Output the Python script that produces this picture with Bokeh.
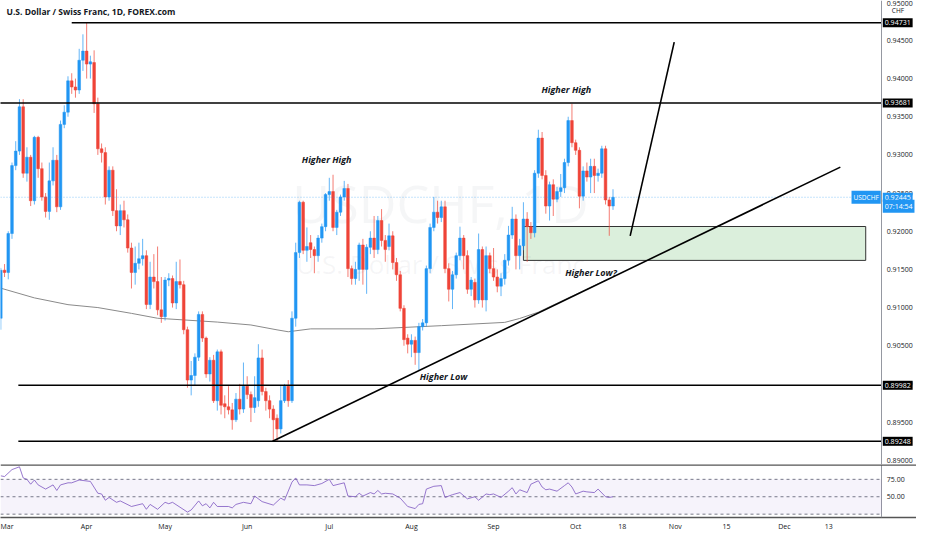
import numpy as np
import pandas as pd
from bokeh.plotting import figure
from bokeh.models import (ColumnDataSource, Range1d, FixedTicker, NumeralTickFormatter,
                          Span, BoxAnnotation, Label)
from bokeh.layouts import column
from bokeh.embed import file_html
from bokeh.resources import INLINE
from bokeh.core.properties import value

# ---------------- data ----------------
title_text = "U.S. Dollar / Swiss Franc, 1D, FOREX.com"

opens = [.9086,.9149,.9146,.9197,.9286,.9305,.9363,.9276,.9297,.9240,
         .9323,.9282,.9245,.9226,.9266,.9293,.9232,.9340,.9356,.9397,
         .9389,.9385,.9424,.9436,.9419,.9421,.9367,.9308,.9303,.9245,
         .9280,.9227,.9207,.9227,.9215,.9178,.9146,.9158,.9164,.9168,
         .9104,.9140,.9134,.9097,.9088,.9136,.9138,.9106,.9134,.9130,
         .9071,.9005,.9011,.9035,.9091,.9060,.9013,.9031,.8978,.9042,
         .8974,.8970,.8966,.8953,.8980,.8967,.8997,.8986,.8969,.8978,
         .9034,.8990,.8978,.8967,.8955,.8941,.8978,.8997,.8978,.9086,
         .9172,.9238,.9175,.9185,.9176,.9168,.9191,.9206,.9248,.9252,
         .9205,.9225,.9245,.9256,.9151,.9138,.9150,.9182,.9150,.9179,
         .9191,.9176,.9214,.9188,.9180,.9194,.9159,.9143,.9099,.9060,
         .9052,.9057,.9041,.9075,.9080,.9151,.9205,.9225,.9218,.9232,
         .9151,.9124,.9143,.9168,.9191,.9168,.9124,.9133,.9110,.9176,
         .9110,.9168,.9151,.9140,.9128,.9138,.9162,.9195,.9216,.9168,
         .9181,.9216,.9206,.9198,.9276,.9322,.9273,.9233,.9261,.9242,
         .9252,.9257,.9290,.9345,.9316,.9306,.9246,.9279,.9271,.9285,
         .9273,.9276,.9308,.9241,.9233]
highs = [.9152,.9157,.9200,.9290,.9318,.9373,.9373,.9310,.9300,.9325,
         .9325,.9290,.9250,.9290,.9310,.9300,.9345,.9365,.9403,.9407,
         .9400,.9439,.9458,.9473,.9430,.9437,.9375,.9315,.9310,.9285,
         .9285,.9255,.9235,.9240,.9222,.9185,.9180,.9185,.9190,.9175,
         .9160,.9170,.9180,.9140,.9140,.9145,.9142,.9160,.9163,.9135,
         .9075,.9030,.9040,.9095,.9095,.9062,.9035,.9038,.9045,.9045,
         .8985,.8997,.8975,.8988,.9000,.9028,.9010,.8990,.9010,.9052,
         .9045,.8995,.8985,.8972,.8960,.8998,.9000,.9005,.9095,.9185,
         .9240,.9240,.9205,.9195,.9180,.9195,.9210,.9250,.9270,.9274,
         .9228,.9248,.9266,.9262,.9155,.9160,.9185,.9190,.9183,.9200,
         .9220,.9220,.9229,.9195,.9210,.9200,.9165,.9148,.9103,.9065,
         .9065,.9062,.9080,.9085,.9155,.9210,.9245,.9240,.9240,.9240,
         .9158,.9148,.9172,.9206,.9195,.9175,.9140,.9138,.9197,.9180,
         .9180,.9172,.9178,.9150,.9145,.9170,.9207,.9232,.9222,.9190,
         .9238,.9225,.9212,.9280,.9333,.9330,.9280,.9265,.9268,.9258,
         .9275,.9295,.9350,.9367,.9320,.9310,.9285,.9290,.9295,.9295,
         .9282,.9312,.9312,.9245,.9255]
lows = [.9071,.9140,.9137,.9190,.9280,.9300,.9270,.9265,.9233,.9235,
        .9270,.9240,.9218,.9215,.9260,.9225,.9228,.9335,.9350,.9380,
        .9375,.9380,.9410,.9400,.9400,.9355,.9300,.9290,.9235,.9240,
        .9220,.9200,.9195,.9205,.9172,.9125,.9130,.9150,.9155,.9098,
        .9098,.9125,.9090,.9080,.9083,.9128,.9100,.9098,.9125,.9065,
        .8995,.8985,.8998,.9030,.9055,.9008,.9003,.8975,.8965,.8960,
        .8955,.8960,.8940,.8950,.8960,.8962,.8980,.8950,.8962,.8970,
        .8985,.8965,.8955,.8925,.8925,.8935,.8975,.8970,.8975,.9075,
        .9165,.9170,.9160,.9165,.9145,.9160,.9185,.9200,.9240,.9200,
        .9195,.9220,.9240,.9140,.9130,.9130,.9135,.9130,.9118,.9170,
        .9165,.9170,.9180,.9160,.9175,.9150,.9135,.9095,.9050,.9040,
        .9035,.9025,.9018,.9070,.9075,.9145,.9200,.9210,.9212,.9145,
        .9108,.9098,.9138,.9162,.9150,.9118,.9115,.9100,.9105,.9100,
        .9095,.9145,.9135,.9120,.9115,.9130,.9155,.9190,.9150,.9150,
        .9175,.9160,.9190,.9192,.9270,.9268,.9223,.9214,.9220,.9238,
        .9245,.9250,.9285,.9310,.9300,.9230,.9240,.9265,.9250,.9250,
        .9265,.9270,.9235,.9194,.9228]
closes = [.9149,.9146,.9197,.9286,.9305,.9363,.9276,.9297,.9240,.9323,
          .9282,.9245,.9226,.9266,.9293,.9232,.9340,.9356,.9397,.9389,
          .9385,.9424,.9436,.9419,.9422,.9367,.9308,.9303,.9245,.9280,
          .9227,.9207,.9227,.9215,.9178,.9146,.9158,.9164,.9168,.9104,
          .9140,.9134,.9097,.9088,.9136,.9138,.9106,.9134,.9130,.9071,
          .9005,.9011,.9035,.9091,.9060,.9013,.9031,.8978,.9042,.8972,
          .8970,.8966,.8953,.8980,.8967,.8997,.8986,.8969,.8982,.9034,
          .8990,.8978,.8967,.8953,.8941,.8978,.8997,.8978,.9086,.9172,
          .9238,.9175,.9180,.9176,.9168,.9191,.9206,.9248,.9252,.9205,
          .9225,.9245,.9256,.9151,.9138,.9150,.9182,.9150,.9179,.9191,
          .9176,.9214,.9188,.9176,.9194,.9159,.9143,.9099,.9058,.9052,
          .9057,.9041,.9075,.9080,.9151,.9205,.9225,.9218,.9232,.9151,
          .9124,.9143,.9168,.9191,.9168,.9124,.9136,.9110,.9176,.9110,
          .9168,.9151,.9140,.9128,.9138,.9162,.9195,.9216,.9168,.9181,
          .9216,.9206,.9198,.9276,.9322,.9273,.9233,.9261,.9242,.9252,
          .9257,.9290,.9345,.9316,.9306,.9246,.9279,.9271,.9285,.9273,
          .9276,.9308,.9241,.9233,.92445]

ma_idx = [0, 9, 18, 26, 35, 42, 58, 67, 74, 77, 83, 100, 118, 135, 139, 144, 146, 163]
ma_val = [.91254, .91127, .91038, .91000, .90924, .90860, .90810, .90772, .90708,
          .90683, .90721, .90721, .90763, .90806, .90857, .90940, .90987, .91381]

rsi_idx = [0, 1, 3, 5, 6, 7, 8, 9, 10, 12, 14, 15, 16, 18, 19, 21, 24, 26, 27, 28,
           29, 31, 32, 35, 38, 39, 40, 42, 44, 45, 46, 48, 50, 51, 53, 54, 55, 56, 57, 58,
           61, 62, 63, 65, 67, 68, 70, 73, 75, 76, 78, 79, 80, 82, 84, 86, 88, 89, 92, 93,
           95, 96, 97, 99, 100, 101, 102, 103, 105, 107, 109, 111, 112, 113, 114, 116, 118, 119, 121, 123,
           125, 127, 128, 130, 131, 132, 134, 136, 137, 138, 139, 141, 142, 144, 145, 146, 147, 149, 151, 152,
           153, 154, 156, 157, 159, 160, 162, 163, 164]
rsi_val = [80, 79, 89, 93, 77, 75, 68, 74, 67, 61, 67, 59, 67, 70, 70, 74, 72, 55, 54, 45,
           49, 42, 44, 36, 40, 32, 39, 32, 42, 40, 42, 35, 28, 31, 44, 37, 40, 34, 42, 36,
           36, 34, 39, 42, 40, 51, 43, 38, 48, 45, 71, 77, 67, 67, 66, 69, 75, 66, 70, 51,
           50, 55, 51, 56, 54, 59, 54, 55, 54, 48, 36, 33, 39, 40, 61, 65, 66, 49, 53, 56,
           47, 50, 45, 54, 53, 54, 49, 58, 63, 54, 60, 56, 68, 73, 64, 60, 61, 58, 66, 70,
           64, 54, 58, 57, 56, 61, 50, 49, 50]

levels = [0.94731, 0.93681, 0.89982, 0.89248]
last_price = 0.92445
symbol = "USDCHF"
currency = "CHF"
countdown = "07:14:54"
price_ticks = [0.89, 0.895, 0.90, 0.905, 0.91, 0.915, 0.92, 0.925, 0.93, 0.935, 0.94, 0.945, 0.95]
rsi_ticks = [50, 75]
rsi_bands = [75, 50, 25]
time_labels = ["Mar", "Apr", "May", "Jun", "Jul", "Aug", "Sep", "Oct", "18", "Nov", "15", "Dec", "13"]
time_pos = [0, 23, 44, 66, 88, 110, 132, 154, 166.5, 180.7, 194.4, 209.9, 221.8]

zone_bottom, zone_top = 0.91618, 0.92062
notes = ["Higher High", "Higher High", "Higher Low", "Higher Low?"]
note_x = [87.3, 151.5, 118.6, 158.1]
note_y = [0.92942, 0.93855, 0.90099, 0.91457]

# ---------------- layout constants ----------------
W = 916
MAIN_H = 464
RSI_H = 70
FONT = "Open Sans"
Y0, Y1 = 0.88944, 0.95023
X_AXIS = 236          # x (bar index) where the price scale begins
X0, X1 = -0.08, 245.3

idx = np.arange(len(opens))
df = pd.DataFrame(dict(x=idx, o=opens, h=highs, l=lows, c=closes))
df["top"] = df[["o", "c"]].max(axis=1)
df["bottom"] = df[["o", "c"]].min(axis=1)
df["color"] = np.where(df["c"] >= df["o"], "#2196f3", "#ef4438")
src = ColumnDataSource(df)

x_range = Range1d(X0, X1)


def style_price_axis(ax, ticks, fmt):
    ax.fixed_location = X_AXIS
    ax.ticker = FixedTicker(ticks=ticks)
    ax.formatter = NumeralTickFormatter(format=fmt)
    ax.major_tick_out = 0
    ax.major_tick_in = 0
    ax.minor_tick_line_color = None
    ax.axis_line_color = "#9598a1"
    ax.axis_line_width = 1
    ax.major_label_text_font_size = "7px"
    ax.major_label_text_font = FONT
    ax.major_label_text_color = "#131722"
    ax.major_label_standoff = 5


p = figure(width=W, height=MAIN_H, x_range=x_range, y_range=Range1d(Y0, Y1),
           output_backend="svg", toolbar_location=None, y_axis_location="right",
           min_border_left=0, min_border_right=0, min_border_top=0, min_border_bottom=0)
p.xaxis.visible = False
p.grid.visible = False
p.outline_line_color = None
style_price_axis(p.yaxis[0], price_ticks, "0.00000")

# watermark
p.text(x=[117.8], y=[0.92383], text=["USDCHF, 1D"], text_font=value(FONT),
       text_font_size="52px", text_align="center", text_baseline="middle",
       text_color="#9598a1", text_alpha=0.09)
p.text(x=[117.8], y=[0.91571], text=["U.S. Dollar / Swiss Franc"], text_font=value(FONT),
       text_font_size="26px", text_align="center", text_baseline="middle",
       text_color="#9598a1", text_alpha=0.09)

# demand zone
p.quad(left=[140], right=[231.7], bottom=[zone_bottom], top=[zone_top],
       fill_color="#4caf50", fill_alpha=0.2, line_color="#333333", line_width=1)

# moving average
p.line(ma_idx, ma_val, line_color="#8a8a8a", line_width=1)

# candles
p.segment(x0="x", y0="h", x1="x", y1="l", line_color="color", line_alpha=0.7,
          line_width=1, source=src)
p.vbar(x="x", width=0.72, top="top", bottom="bottom", fill_color="color",
       line_color="color", line_width=0.5, source=src)

# current price line
p.segment(x0=[X0], y0=[last_price], x1=[X_AXIS], y1=[last_price], line_color="#2196f3",
          line_alpha=0.5, line_dash="1 2", line_width=1)

# key horizontal levels
level_start = [19, -1, 4.7, 4.7]
p.segment(x0=level_start, y0=levels, x1=[X_AXIS] * 4, y1=levels,
          line_color="black", line_width=1.6)

# trend line and projection
p.segment(x0=[72.8], y0=[levels[3]], x1=[224.9], y1=[0.92840],
          line_color="black", line_width=1.6)
p.segment(x0=[168.6], y0=[0.91939], x1=[180.4], y1=[0.94477],
          line_color="black", line_width=1.6)

# annotations
p.text(x=note_x, y=note_y, text=notes, text_font=value(FONT), text_font_style="bold italic",
       text_font_size="9px", text_align="center", text_baseline="middle", text_color="#131722")

# title
p.add_layout(Label(x=6, y=MAIN_H - 11, x_units="screen", y_units="screen", text=title_text,
                   text_font=FONT, text_font_size="8.5px", text_font_style="bold",
                   text_color="#131722", text_baseline="middle"))

# price-scale badges
badge = dict(text_font=FONT, text_font_size="7px", text_color="white",
             text_baseline="middle", padding=2)
for lv in levels:
    p.add_layout(Label(x=X_AXIS, y=lv, text=f"{lv:.5f}", background_fill_color="black",
                       x_offset=1, **badge))
p.add_layout(Label(x=X_AXIS, y=last_price, text=f"{last_price:.5f}", x_offset=1, y_offset=0,
                   background_fill_color="#2196f3", **badge))
p.add_layout(Label(x=X_AXIS, y=last_price, text=countdown, x_offset=1, y_offset=-9,
                   background_fill_color="#2196f3", **badge))
p.add_layout(Label(x=X_AXIS, y=last_price, text=symbol, x_offset=-1, text_align="right",
                   text_font=FONT, text_font_size="6.5px", text_color="white",
                   background_fill_color="#2196f3", text_baseline="middle", padding=2))
p.add_layout(Label(x=X_AXIS, y=0.94896, text=currency, x_offset=10, text_font=FONT,
                   text_font_size="6.5px", text_color="#131722", text_baseline="middle"))

# ---------------- RSI panel ----------------
p2 = figure(width=W, height=RSI_H, x_range=x_range, y_range=Range1d(20.2, 96.3),
            output_backend="svg", toolbar_location=None, y_axis_location="right",
            min_border_left=0, min_border_right=0, min_border_top=0, min_border_bottom=17)
p2.grid.visible = False
p2.outline_line_color = None
p2.add_layout(BoxAnnotation(bottom=25, top=75, right=X_AXIS, fill_color="#7e57c2",
                            fill_alpha=0.07, line_color=None))
p2.segment(x0=[X0] * 3, y0=rsi_bands, x1=[X_AXIS] * 3, y1=rsi_bands, line_color="#787b86",
           line_dash="3 3", line_width=1)
p2.add_layout(Span(location=96.3, dimension="width", line_color="#555555", line_width=2.5))
p2.line(rsi_idx, rsi_val, line_color="#7e57c2", line_width=1, line_alpha=0.8)

xa = p2.xaxis[0]
xa.ticker = FixedTicker(ticks=time_pos)
xa.major_label_overrides = {t: lab for t, lab in zip(time_pos, time_labels)}
xa.major_tick_out = 0
xa.major_tick_in = 0
xa.minor_tick_line_color = None
xa.axis_line_color = "#555555"
xa.axis_line_width = 1.5
xa.major_label_text_font_size = "7px"
xa.major_label_text_font = FONT
xa.major_label_text_color = "#131722"
xa.major_label_standoff = 4

style_price_axis(p2.yaxis[0], rsi_ticks, "0.00")

layout = column(p, p2, spacing=0)
open("out.html", "w").write(file_html(layout, INLINE))
